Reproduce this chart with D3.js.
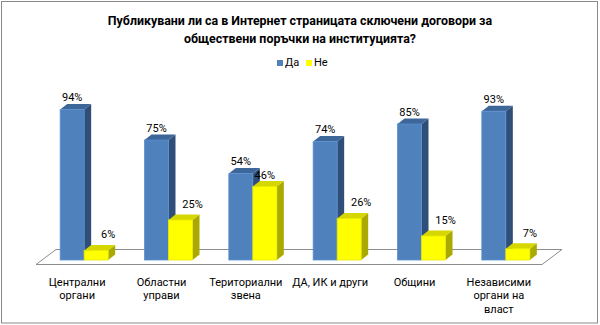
<!DOCTYPE html>
<html><head><meta charset="utf-8">
<script src="https://cdn.jsdelivr.net/npm/d3@7"></script>
<style>body{margin:0;background:#fff}svg{display:block}text{font-family:Roboto,"Liberation Sans",sans-serif}</style>
</head><body>
<svg id="c" width="600" height="325"></svg>
<script>
const titleLines = ["Публикувани ли са в Интернет страницата сключени договори за", "обществени поръчки на институцията?"];
const categories = [["Централни","органи"],["Областни","управи"],["Териториални","звена"],["ДА, ИК и други"],["Общини"],["Независими","органи на","власт"]];
const seriesNames = ["Да","Не"];
const yesValues = [94,75,54,74,85,93];
const noValues = [6,25,46,26,15,7];

const svg = d3.select("#c");
svg.append("rect").attr("x",1.5).attr("y",1.5).attr("width",596).attr("height",321.5).attr("fill","#fff").attr("stroke","#8a8a8a");

const keys = categories.map(c=>c.join(" "));
const x = d3.scaleBand().domain(keys).range([36,542]).paddingInner(0).paddingOuter(0);
const y = d3.scaleLinear().domain([0,100]).range([260,100]);
const floorFront = 264.5, fdx = 20, fdy = -15;
const bdx = 7, bdy = -5.5, barW = 24, shift = 6;

// floor
const x0 = x.range()[0], x1 = x.range()[1];
svg.append("polygon")
  .attr("points", [[x0,floorFront],[x1,floorFront],[x1+fdx,floorFront+fdy],[x0+fdx,floorFront+fdy]].map(p=>p.join(",")).join(" "))
  .attr("fill","#fff").attr("stroke","#8c8c8c").attr("stroke-width",1);

const styles = [
  {front:"#4F81BD", top:"#3D6699", side:"#2F4E78", stroke:"#5B8ED0"},
  {front:"#FFFF00", top:"#D6D600", side:"#A9A900", stroke:"#E8E800"}
];

function bar(g, bx, v, st){
  const yt = y(v), yb = y(0);
  g.append("polygon").attr("points",[[bx+barW,yb],[bx+barW+bdx,yb+bdy],[bx+barW+bdx,yt+bdy],[bx+barW,yt]].map(p=>p.join(",")).join(" "))
    .attr("fill",st.side);
  g.append("polygon").attr("points",[[bx,yt],[bx+barW,yt],[bx+barW+bdx,yt+bdy],[bx+bdx,yt+bdy]].map(p=>p.join(",")).join(" "))
    .attr("fill",st.top);
  g.append("rect").attr("x",bx).attr("y",yt).attr("width",barW).attr("height",yb-yt)
    .attr("fill",st.front).attr("stroke",st.stroke).attr("stroke-width",0.8);
}

const gb = svg.append("g");
const lab = svg.append("g").attr("font-size",11).attr("fill","#000").attr("text-anchor","middle");
keys.forEach((k,i)=>{
  const c = x(k) + x.bandwidth()/2 + shift;
  bar(gb, c-barW, yesValues[i], styles[0]);
  bar(gb, c, noValues[i], styles[1]);
  lab.append("text").attr("x", c-barW/2).attr("y", y(yesValues[i])-8.5).text(yesValues[i]+"%");
  const close = y(noValues[i]) - y(yesValues[i]) < 20;
  lab.append("text").attr("x", c+barW/2 + (close?0:12)).attr("y", y(noValues[i]) - (close?7.5:12)).text(noValues[i]+"%");
});

// category labels
const cl = svg.append("g").attr("font-size",11).attr("fill","#000").attr("text-anchor","middle");
categories.forEach((lines,i)=>{
  const cx = x(keys[i]) + x.bandwidth()/2 - 1;
  lines.forEach((ln,j)=>cl.append("text").attr("x",cx).attr("y",285.5+j*13.5).text(ln));
});

// title
const tg = svg.append("g").attr("font-size",12.4).attr("font-weight","bold").attr("text-anchor","middle").attr("fill","#000");
titleLines.forEach((t,j)=>tg.append("text").attr("x",300).attr("y",25+j*17.5).text(t));

// legend
const lg = svg.append("g").attr("font-size",11);
const legX = [277, 306];
seriesNames.forEach((n,i)=>{
  lg.append("rect").attr("x",legX[i]).attr("y",60).attr("width",6).attr("height",6).attr("fill",styles[i].front);
  lg.append("text").attr("x",legX[i]+8).attr("y",66).text(n);
});
</script>
</body></html>
